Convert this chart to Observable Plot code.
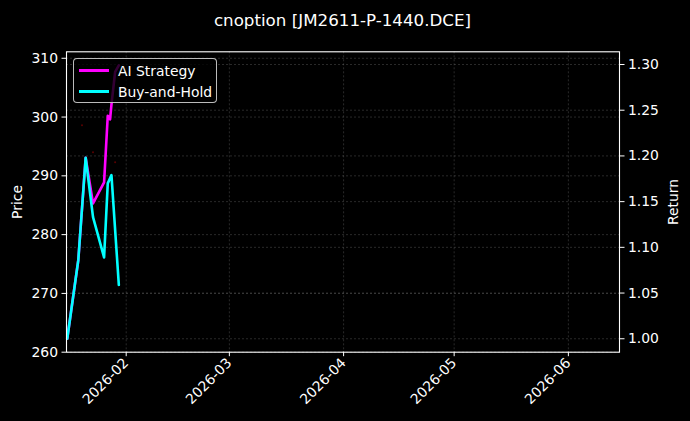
<!DOCTYPE html>
<html>
<head>
<meta charset="utf-8">
<script src="https://cdn.jsdelivr.net/npm/d3@7"></script>
<script src="https://cdn.jsdelivr.net/npm/@observablehq/plot@0.6"></script>
<style>
  html, body { margin: 0; padding: 0; background: #000; }
  #wrap { position: relative; width: 690px; height: 421px; background: #000; overflow: hidden; font-family: "DejaVu Sans", sans-serif; color: #fff; }
  #title { position: absolute; left: 66px; width: 553px; top: 10px; text-align: center; font-size: 16.7px; line-height: 20px; white-space: nowrap; }
  #legend { position: absolute; left: 72.5px; top: 58px; width: 144px; height: 45px; border: 1px solid rgba(220,220,220,0.85); border-radius: 4px; background: rgba(0,0,0,0.8); box-sizing: border-box; }
  .item { position: absolute; left: 0; height: 20px; width: 144px; }
  .swatch { position: absolute; left: 5px; width: 30px; height: 3px; }
  .lab { position: absolute; left: 44.5px; font-size: 13.9px; line-height: 16px; white-space: nowrap; }
</style>
</head>
<body>
<div id="wrap">
  <div id="chart"></div>
  <div id="title">cnoption [JM2611-P-1440.DCE]</div>
  <div id="legend">
    <div class="item" style="top:0px"><div class="swatch" style="top:10px;background:#ff00ff"></div><div class="lab" style="top:4px">AI Strategy</div></div>
    <div class="item" style="top:20.5px"><div class="swatch" style="top:10px;background:#00ffff"></div><div class="lab" style="top:4px">Buy-and-Hold</div></div>
  </div>
</div>
<script>
// ---- data ----
const bhDates = ["2026-01-16","2026-01-19","2026-01-21","2026-01-23","2026-01-26","2026-01-27","2026-01-28","2026-01-30"];
const bhReturn = [1.000, 1.086, 1.198, 1.133, 1.089, 1.170, 1.179, 1.059];

const aiDates = ["2026-01-16","2026-01-19","2026-01-21","2026-01-23","2026-01-26","2026-01-27","2026-01-27T15:00","2026-01-28","2026-01-29","2026-01-30"];
const aiReturn = [1.000, 1.086, 1.198, 1.148, 1.171, 1.244, 1.240, 1.256, 1.292, 1.299];

const priceDates = ["2026-01-20","2026-01-23","2026-01-29"];
const priceValues = [298.6, 294.0, 292.3];

const priceTicks = [260, 270, 280, 290, 300, 310];
const returnTicks = [1.00, 1.05, 1.10, 1.15, 1.20, 1.25, 1.30];
const monthTicks = ["2026-02-01","2026-03-01","2026-04-01","2026-05-01","2026-06-01"];

const priceDomain = [260, 311.1];
const returnDomain = [0.9853, 1.3139];
const xDomain = [new Date("2026-01-15T19:12Z"), new Date("2026-06-14T21:00Z")];

// ---- build tables ----
const toDate = s => new Date(s.length > 10 ? s + "Z" : s + "T00:00Z");
// map a return value onto the price (left) scale for the twin axis
const r2p = r => priceDomain[0] + (r - returnDomain[0]) * (priceDomain[1] - priceDomain[0]) / (returnDomain[1] - returnDomain[0]);
const p2r = p => returnDomain[0] + (p - priceDomain[0]) * (returnDomain[1] - returnDomain[0]) / (priceDomain[1] - priceDomain[0]);

const bh = bhDates.map((d, i) => ({date: toDate(d), v: r2p(bhReturn[i])}));
const ai = aiDates.map((d, i) => ({date: toDate(d), v: r2p(aiReturn[i])}));
const price = priceDates.map((d, i) => ({date: toDate(d), v: priceValues[i]}));
const months = monthTicks.map(toDate);
const rTicksOnP = returnTicks.map(r2p);

const gridStyle = {stroke: "#8a8a8a", strokeOpacity: 0.5, strokeWidth: 0.6, strokeDasharray: "2,2"};

const chart = Plot.plot({
  width: 690,
  height: 421,
  marginTop: 51.3,
  marginBottom: 69.3,
  marginLeft: 66,
  marginRight: 71,
  style: {background: "#000", color: "#fff", fontFamily: "DejaVu Sans, sans-serif", fontSize: "13.9px"},
  x: {type: "utc", domain: xDomain},
  y: {domain: priceDomain},
  marks: [
    Plot.gridX(months, gridStyle),
    Plot.gridY(priceTicks, gridStyle),
    Plot.gridY(rTicksOnP, gridStyle),
    Plot.dot(price, {x: "date", y: "v", r: 1, fill: "#5a0000", stroke: null}),
    Plot.line(ai, {x: "date", y: "v", stroke: "#ff00ff", strokeWidth: 2.6, curve: "linear"}),
    Plot.line(bh, {x: "date", y: "v", stroke: "#00ffff", strokeWidth: 2.6, curve: "linear"}),
    Plot.axisY(priceTicks, {anchor: "left", tickSize: 4.5, tickPadding: 4, label: null, stroke: "#fff"}),
    Plot.axisY(rTicksOnP, {anchor: "right", tickSize: 4.5, tickPadding: 4, label: null, stroke: "#fff",
      tickFormat: d => p2r(d).toFixed(2)}),
    Plot.axisX(months, {anchor: "bottom", tickSize: 4.5, tickPadding: 4, label: null, tickRotate: -45,
      tickFormat: d3.utcFormat("%Y-%m"), stroke: "#fff"}),
    Plot.frame({stroke: "#fff", strokeWidth: 1.1}),
    Plot.text(["Price"], {frameAnchor: "left", dx: -49, rotate: -90, text: d => d, fill: "#fff", fontSize: 13.9, textAnchor: "middle"}),
    Plot.text(["Return"], {frameAnchor: "right", dx: 54, rotate: -90, text: d => d, fill: "#fff", fontSize: 13.9, textAnchor: "middle"})
  ]
});
document.getElementById("chart").appendChild(chart);
</script>
</body>
</html>
